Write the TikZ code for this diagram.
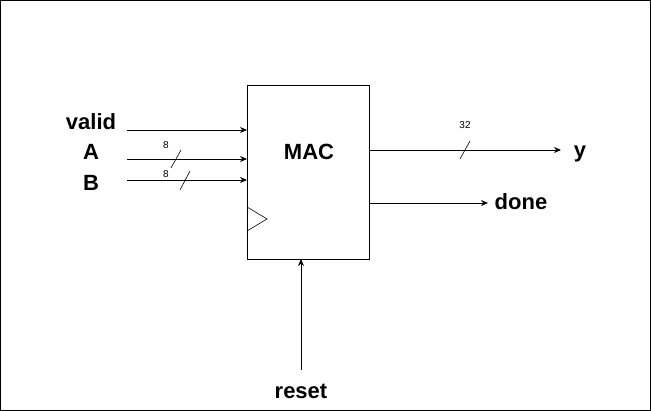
\documentclass[tikz,border=0pt]{standalone}
\usepackage{fontspec}
\setmainfont{Liberation Sans}
\usetikzlibrary{arrows.meta}
\begin{document}
\begin{tikzpicture}[x=1pt,y=-1pt,
  lbl/.style={font=\bfseries\fontsize{22}{24}\selectfont},
  sm/.style={font=\fontsize{10}{11}\selectfont},
  sig/.style={-{Stealth[length=7pt,width=6pt]},line width=0.8pt},
  slash/.style={line width=0.6pt}]
\useasboundingbox (0,0) rectangle (651,411);
\draw[line width=0.6pt] (0.5,0.5) rectangle (650.5,410.5);
\node[draw,line width=0.8pt,minimum width=122pt,minimum height=174pt,anchor=north west,inner sep=0] (mac) at (247,85) {};
\node[lbl] (mact) at (309,152) {MAC};
\draw[line width=0.6pt] (247,207) -- (267,219) -- (247,231);
\node[lbl] (valid) at (91,122) {valid};
\node[lbl] (a) at (91,152) {A};
\node[lbl] (b) at (91,183) {B};
\coordinate (vs) at (127,130); \coordinate (ve) at (247,130);
\coordinate (as) at (127,159); \coordinate (ae) at (247,159);
\coordinate (bs) at (127,180); \coordinate (be) at (247,180);
\draw[sig] (vs) -- (ve);
\draw[sig] (as) -- (ae);
\draw[sig] (bs) -- (be);
\draw[slash] (171,168) -- (181,150);
\draw[slash] (180,190) -- (190,171);
\node[sm] (a8) at (166,145) {8};
\node[sm] (b8) at (166,174) {8};
\coordinate (ys) at (369,150); \coordinate (ye) at (561,150);
\draw[sig] (ys) -- (ye);
\draw[slash] (460,159) -- (470,141);
\node[sm] (y32) at (465,125) {32};
\node[lbl] (y) at (580,154) {y};
\coordinate (ds) at (369,203); \coordinate (de) at (488,203);
\draw[sig] (ds) -- (de);
\node[lbl] (done) at (521,202) {done};
\coordinate (rs) at (301,370); \coordinate (re) at (301,259);
\draw[sig] (rs) -- (re);
\node[lbl] (reset) at (301,391) {reset};
\end{tikzpicture}
\end{document}
